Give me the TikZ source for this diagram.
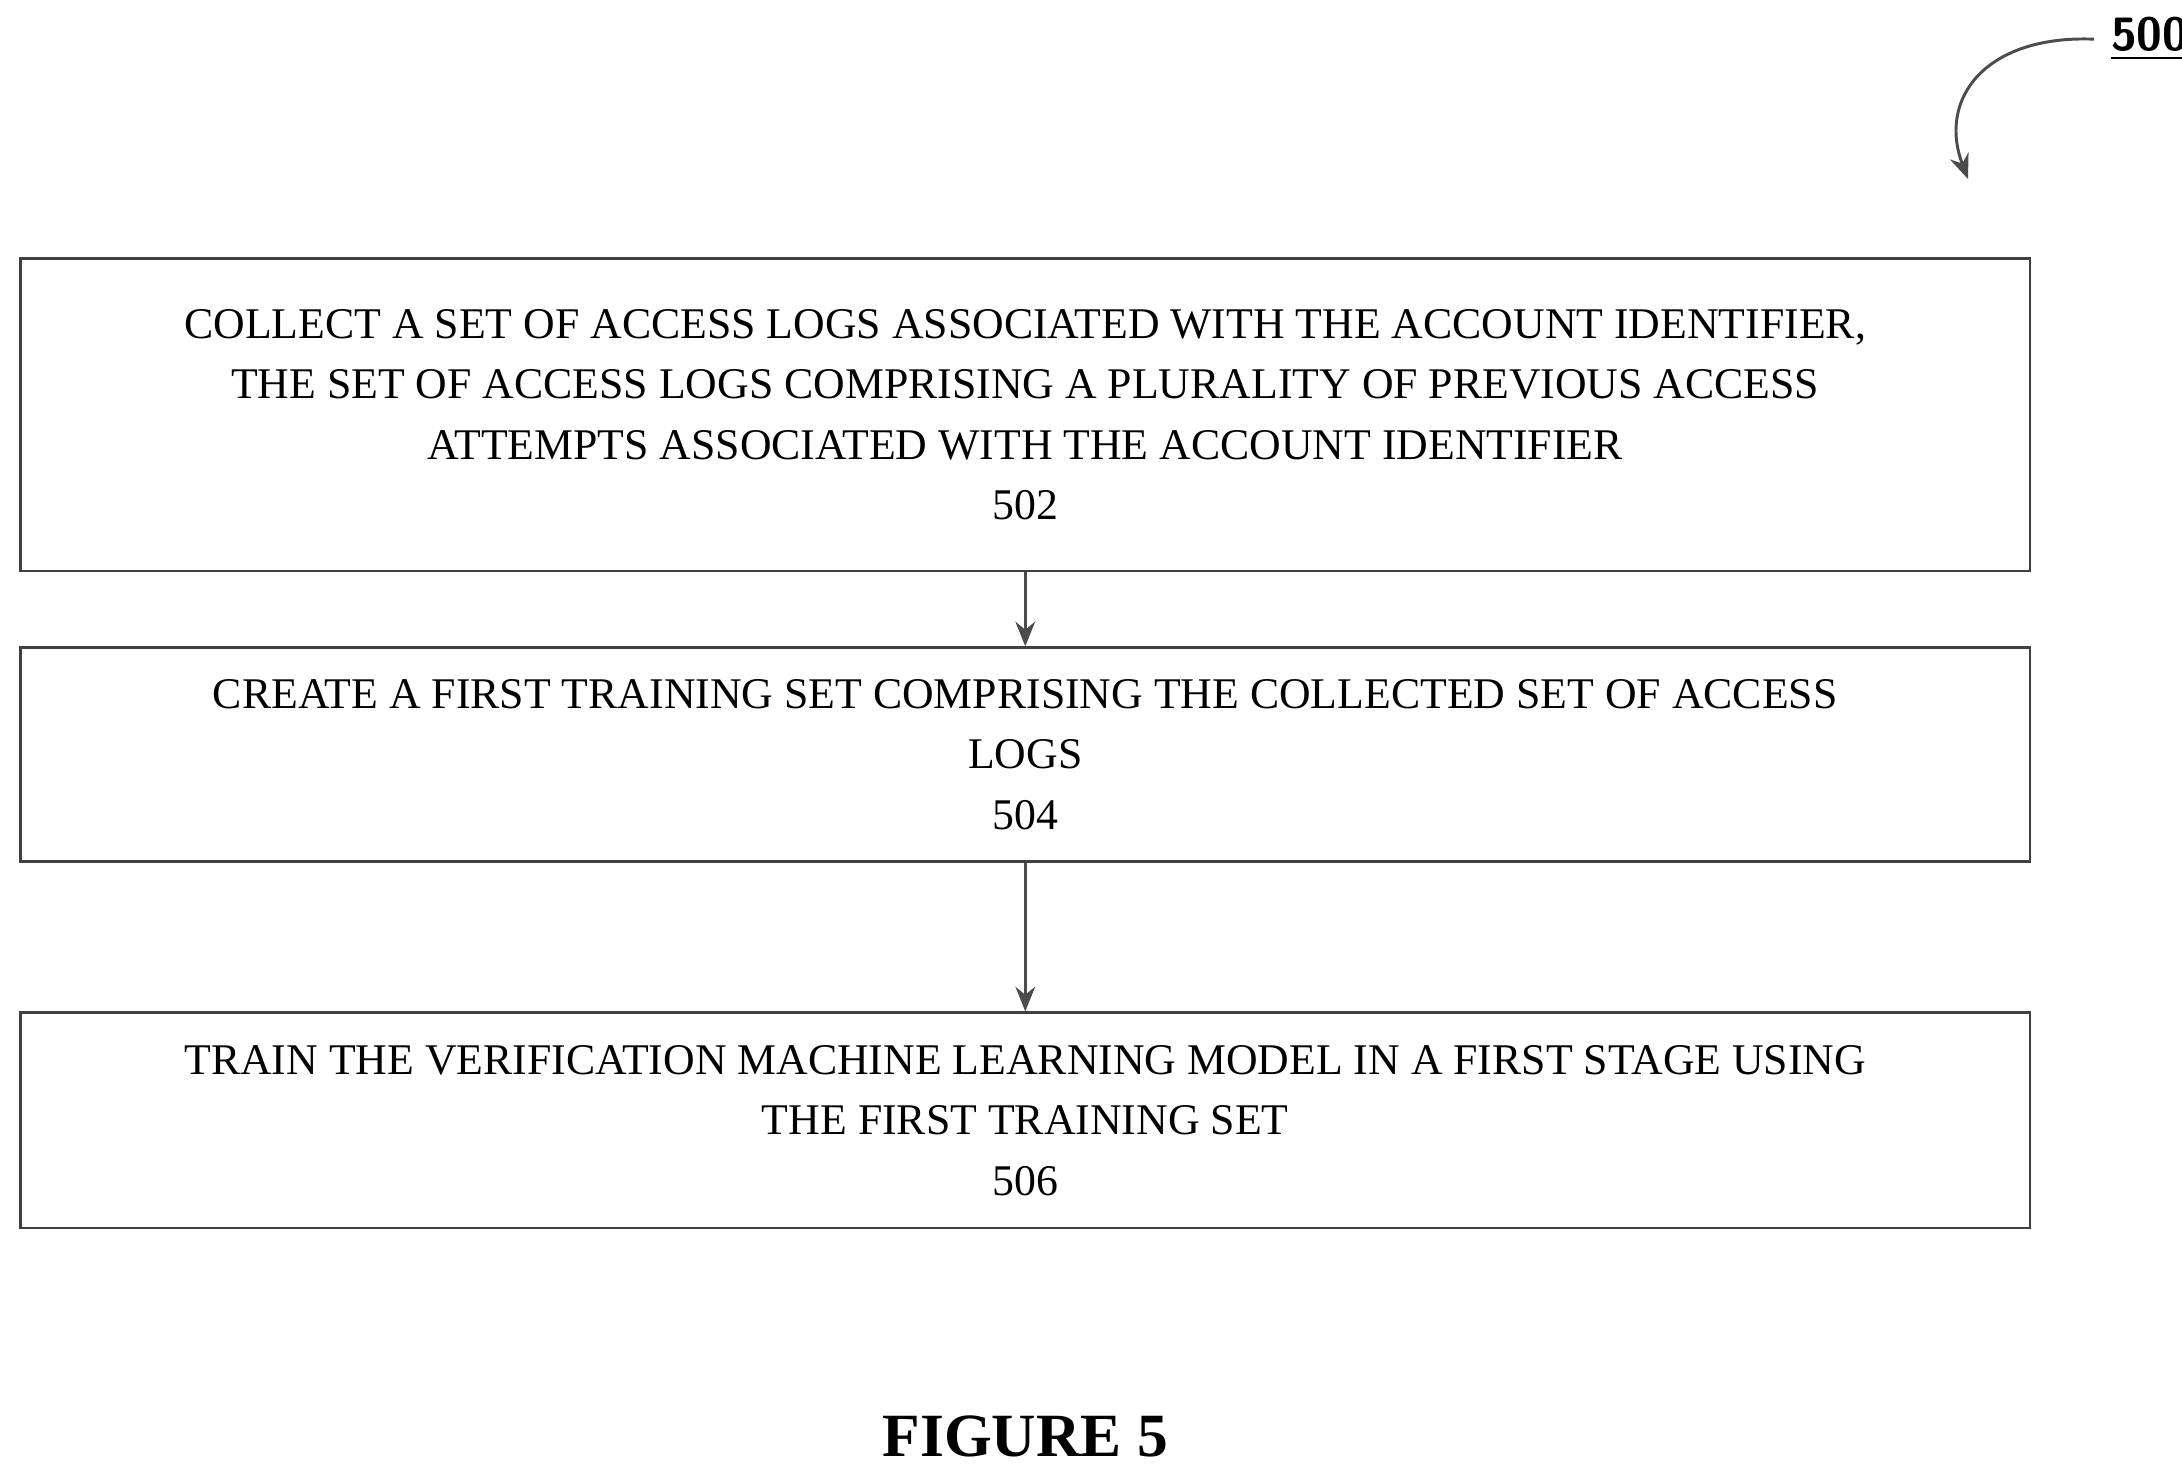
\documentclass[tikz,border=0pt]{standalone}
\usepackage{fontspec}
\setmainfont{Liberation Serif}
\usetikzlibrary{positioning, arrows.meta}
\tikzset{
stepbox/.style={draw=black!75, line width=0.5pt, minimum width=14.36cm, align=center, inner sep=0pt, font=\fontsize{8.9}{12.3}\selectfont}, % the flow boxes
flow/.style={-{Stealth[length=5pt,width=4pt]}, draw=black!70, line width=0.6pt},
}
\begin{document}
\begin{tikzpicture}[x=0.01cm,y=-0.01cm]
\useasboundingbox (0,0) rectangle (1560,1052);
\node[stepbox, minimum height=2.23cm] (collect) at (733,296.5) {COLLECT A SET OF ACCESS LOGS ASSOCIATED WITH THE ACCOUNT IDENTIFIER,\\THE SET OF ACCESS LOGS COMPRISING A PLURALITY OF PREVIOUS ACCESS\\ATTEMPTS ASSOCIATED WITH THE ACCOUNT IDENTIFIER\\502};
\node[stepbox, minimum height=1.53cm] (create) at (733,539.5) {CREATE A FIRST TRAINING SET COMPRISING THE COLLECTED SET OF ACCESS\\LOGS\\504};
\node[stepbox, minimum height=1.54cm] (train) at (733,801) {TRAIN THE VERIFICATION MACHINE LEARNING MODEL IN A FIRST STAGE USING\\THE FIRST TRAINING SET\\506};
\draw[flow] (collect) -- (create);
\draw[flow] (create) -- (train);
\node[font=\fontsize{12.5}{14}\selectfont\bfseries] (fig) at (733,1027) {FIGURE 5};
\node[font=\sffamily\bfseries\fontsize{9.5}{11}\selectfont, anchor=west] (num) at (1497,28) {\underline{500}};
\draw[flow] (num.west) .. controls (1420,25) and (1385,70) .. (1407,128);
\end{tikzpicture}
\end{document}
